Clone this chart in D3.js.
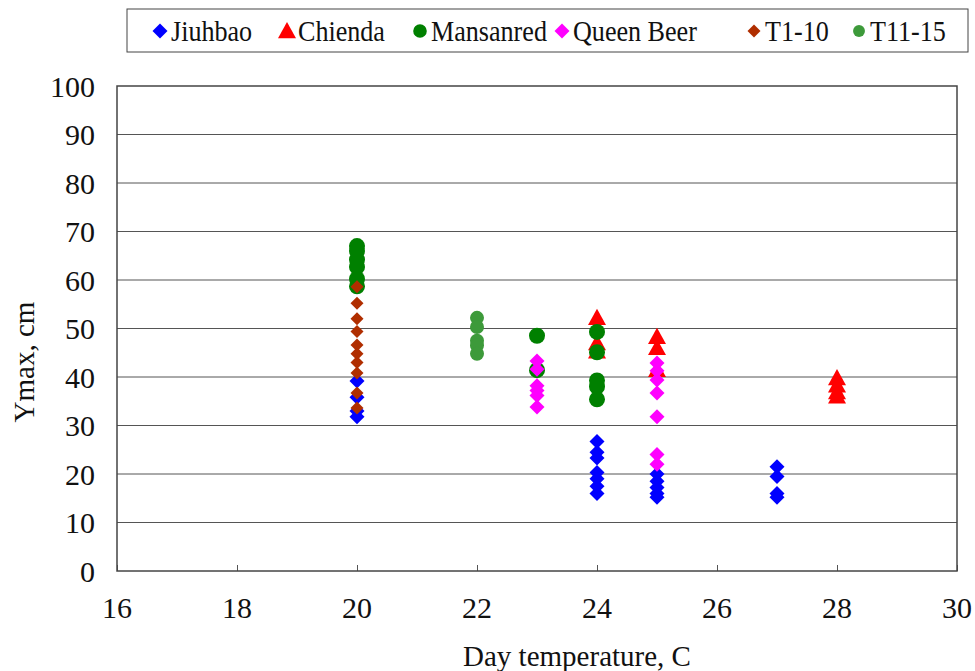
<!DOCTYPE html>
<html>
<head>
<meta charset="utf-8">
<script src="https://cdn.jsdelivr.net/npm/d3@7"></script>
<style>
  body { margin: 0; background: #fff; }
  svg text { font-family: "Times New Roman", "Liberation Serif", Tinos, "DejaVu Serif", serif !important; fill: #111; }
</style>
</head>
<body>
<div id="chart"></div>
<script>
// series names, in legend and drawing order
var seriesNames = ["Jiuhbao", "Chienda", "Mansanred", "Queen Beer", "T1-10", "T11-15"];

// [day temperature, Ymax] pairs
var jiuhbao = [
  [20, 39.2], [20, 35.8], [20, 33], [20, 31.8],
  [24, 26.7], [24, 24.5], [24, 23.3], [24, 20.3], [24, 19], [24, 17.5], [24, 16],
  [25, 20], [25, 18.5], [25, 17.2], [25, 16], [25, 15.2],
  [27, 21.5], [27, 19.5], [27, 16], [27, 15.2]
];
var chienda = [
  [24, 52.2], [24, 47], [24, 45.3],
  [25, 48.3], [25, 46], [25, 41.5],
  [28, 39.8], [28, 38.3], [28, 36.9], [28, 36]
];
var mansanred = [
  [20, 67], [20, 66], [20, 64.2], [20, 62.7], [20, 60.2], [20, 58.7],
  [23, 48.5], [23, 41.4],
  [24, 49.3], [24, 45.1], [24, 39.3], [24, 38], [24, 35.4]
];
var queenBeer = [
  [23, 43.3], [23, 41.6], [23, 38.2], [23, 37.2], [23, 36.2], [23, 33.8],
  [25, 42.9], [25, 41.3], [25, 39.4], [25, 36.7], [25, 31.8], [25, 24], [25, 22]
];
var t1to10 = [
  [20, 58.6], [20, 55.2], [20, 52], [20, 49.4], [20, 46.6],
  [20, 44.8], [20, 43], [20, 40.8], [20, 36.7], [20, 33.6]
];
var t11to15 = [
  [22, 52.2], [22, 50.3], [22, 47.5], [22, 46.5], [22, 44.8]
];

var xTicks = [16, 18, 20, 22, 24, 26, 28, 30];
var yTicks = [0, 10, 20, 30, 40, 50, 60, 70, 80, 90, 100];

var width = 975, height = 671;
var plot = { left: 117, right: 957, top: 86, bottom: 571 };

var styles = [
  { data: jiuhbao,   shape: "diamond",  color: "#0000ff", size: 7.5 },
  { data: chienda,   shape: "triangle", color: "#ff0000", size: 9 },
  { data: mansanred, shape: "circle",   color: "#008000", size: 8 },
  { data: queenBeer, shape: "diamond",  color: "#ff00ff", size: 7.5 },
  { data: t1to10,    shape: "diamond",  color: "#b02e00", size: 6.5 },
  { data: t11to15,   shape: "circle",   color: "#3d9a3a", size: 7 }
];

var xScale = d3.scaleLinear().domain([16, 30]).range([plot.left, plot.right]);
var yScale = d3.scaleLinear().domain([0, 100]).range([plot.bottom, plot.top]);

var svg = d3.select("#chart").append("svg")
  .attr("width", width)
  .attr("height", height);

// gridlines
svg.append("g")
  .selectAll("line")
  .data(yTicks.filter(function(d){ return d > 0 && d < 100; }))
  .enter().append("line")
  .attr("x1", plot.left).attr("x2", plot.right)
  .attr("y1", function(d){ return yScale(d); })
  .attr("y2", function(d){ return yScale(d); })
  .attr("stroke", "#555")
  .attr("stroke-width", 1);

// x axis: ticks pointing up into the plot
var xAxis = d3.axisTop(xScale).tickValues(xTicks).tickSize(6).tickFormat("");
svg.append("g")
  .attr("transform", "translate(0," + plot.bottom + ")")
  .call(xAxis)
  .call(function(g){ g.select(".domain").remove(); })
  .selectAll("line").attr("stroke", "#555");

// y axis labels
var yAxis = d3.axisLeft(yScale).tickValues(yTicks).tickSize(0).tickPadding(22);
svg.append("g")
  .attr("transform", "translate(" + plot.left + ",0)")
  .call(yAxis)
  .call(function(g){ g.select(".domain").remove(); })
  .attr("font-family", null)
  .attr("font-size", null)
  .selectAll("text")
  .style("font-size", "30px")
  .attr("fill", "#111")
  .attr("dy", "0.34em");

svg.append("g")
  .selectAll("text")
  .data(xTicks)
  .enter().append("text")
  .attr("x", function(d){ return xScale(d); })
  .attr("y", 618)
  .attr("text-anchor", "middle")
  .style("font-size", "30px")
  .text(function(d){ return d; });

// plot border
svg.append("rect")
  .attr("x", plot.left).attr("y", plot.top)
  .attr("width", plot.right - plot.left)
  .attr("height", plot.bottom - plot.top)
  .attr("fill", "none")
  .attr("stroke", "#444")
  .attr("stroke-width", 1.5);

// axis titles
svg.append("text")
  .attr("x", 577).attr("y", 666)
  .attr("text-anchor", "middle")
  .style("font-size", "29px")
  .text("Day temperature, C");

svg.append("text")
  .attr("transform", "translate(34,362) rotate(-90)")
  .attr("text-anchor", "middle")
  .style("font-size", "29px")
  .text("Ymax, cm");

function markerPath(shape, s) {
  if (shape === "diamond") {
    return "M0," + (-s) + "L" + s + ",0L0," + s + "L" + (-s) + ",0Z";
  }
  if (shape === "triangle") {
    return "M0," + (-s) + "L" + s + "," + (s * 0.8) + "L" + (-s) + "," + (s * 0.8) + "Z";
  }
  return d3.arc()({ innerRadius: 0, outerRadius: s, startAngle: 0, endAngle: 2 * Math.PI });
}

// points
styles.forEach(function(st){
  svg.append("g")
    .selectAll("path")
    .data(st.data)
    .enter().append("path")
    .attr("d", markerPath(st.shape, st.size))
    .attr("transform", function(d){
      return "translate(" + xScale(d[0]) + "," + yScale(d[1]) + ")";
    })
    .attr("fill", st.color);
});

// legend
var legendX = [160, 287, 420, 562, 754, 859];
svg.append("rect")
  .attr("x", 127).attr("y", 9)
  .attr("width", 841).attr("height", 43)
  .attr("fill", "#fff")
  .attr("stroke", "#444")
  .attr("stroke-width", 1);

var leg = svg.append("g")
  .selectAll("g")
  .data(seriesNames)
  .enter().append("g")
  .attr("transform", function(d, i){ return "translate(" + legendX[i] + ",31)"; });

leg.append("path")
  .attr("d", function(d, i){
    var st = styles[i];
    var s = st.shape === "circle" ? st.size * 0.85 : st.size;
    return markerPath(st.shape, s);
  })
  .attr("fill", function(d, i){ return styles[i].color; });

// the original font is a narrow serif, so squeeze legend text a bit
leg.append("text")
  .attr("transform", "translate(11,10) scale(0.87,1)")
  .style("font-size", "30px")
  .text(function(d){ return d; });
</script>
</body>
</html>
